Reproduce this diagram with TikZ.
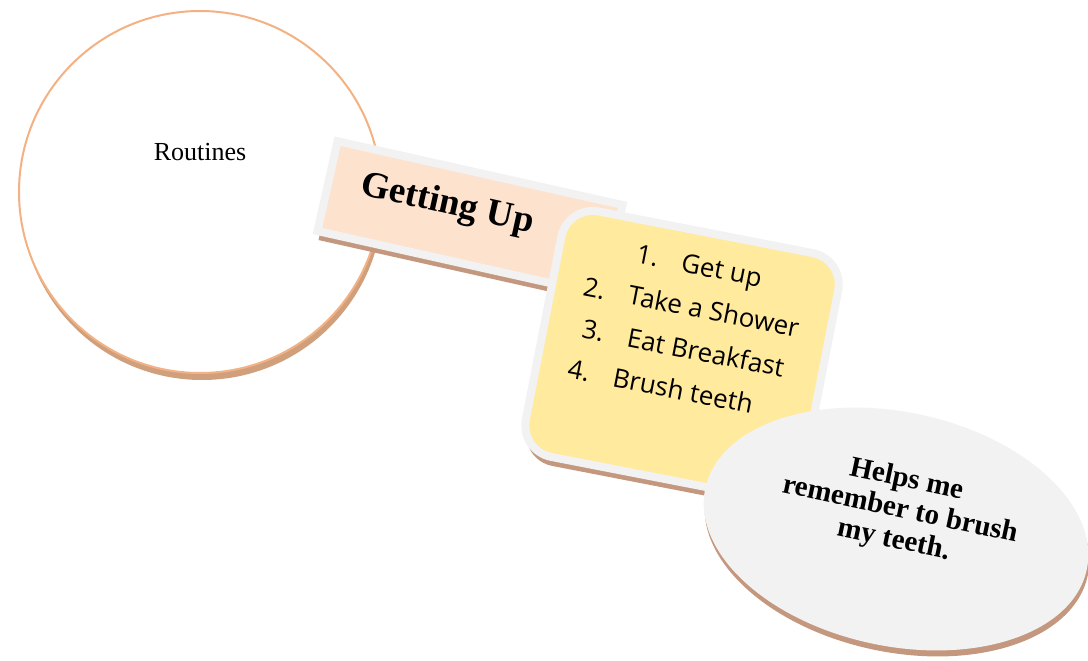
\documentclass[tikz,border=0pt]{standalone}
\usepackage{fontspec}
\setmainfont{Liberation Serif}
\newfontfamily\listfont{Open Sans}
\usetikzlibrary{shapes.geometric,shadows}
\definecolor{ringline}{RGB}{244,177,131}
\definecolor{ringshade}{RGB}{208,160,124}
\definecolor{shade}{RGB}{196,152,126}
\definecolor{frame}{RGB}{242,242,242}
\definecolor{peach}{RGB}{253,226,206}
\definecolor{note}{RGB}{255,234,157}
\definecolor{cloud}{RGB}{242,242,242}
\begin{document}
\begin{tikzpicture}[x=1pt,y=-1pt,
    brownshadow/.style={drop shadow={shadow xshift=1pt,shadow yshift=#1,fill=shade,draw=none,opacity=1}},
    brownshadow/.default=-6pt,
    card/.style={draw=frame,line width=8pt,brownshadow=-9pt}]
    \useasboundingbox (0,0) rectangle (1088,661);
    \node[circle,draw=ringline,line width=2pt,fill=white,minimum size=362pt,
      drop shadow={shadow xshift=2pt,shadow yshift=-7pt,fill=ringshade,draw=none,opacity=1},
      font=\fontsize{26}{30}\selectfont,text height=18pt,text depth=82pt] (routines) at (200,192) {Routines};
    \node[card,fill=peach,minimum width=292pt,minimum height=92pt,rotate=-12.6,
      font=\fontsize{37}{44}\selectfont\bfseries,text height=25pt,text depth=23pt] (getup) at (470,218) {Getting Up\hspace*{50pt}};
    \node[card,fill=note,rounded corners=32pt,minimum width=282pt,minimum height=250pt,rotate=-11,
      font=\listfont\fontsize{26}{42}\selectfont,align=center,text depth=56pt] (steps) at (682,355)
      {1.\hspace{24pt}Get up\\2.\hspace{24pt}Take a Shower\\3.\hspace{24pt}Eat Breakfast\\4.\hspace{24pt}Brush teeth\hspace*{30pt}};
    \node[ellipse,fill=cloud,minimum width=390pt,minimum height=234pt,rotate=-12,brownshadow,
      font=\fontsize{29}{31}\selectfont\bfseries,align=center,text depth=44pt] (reminder) at (896,529)
      {Helps me\\remember to brush\\my teeth.};
\end{tikzpicture}
\end{document}
